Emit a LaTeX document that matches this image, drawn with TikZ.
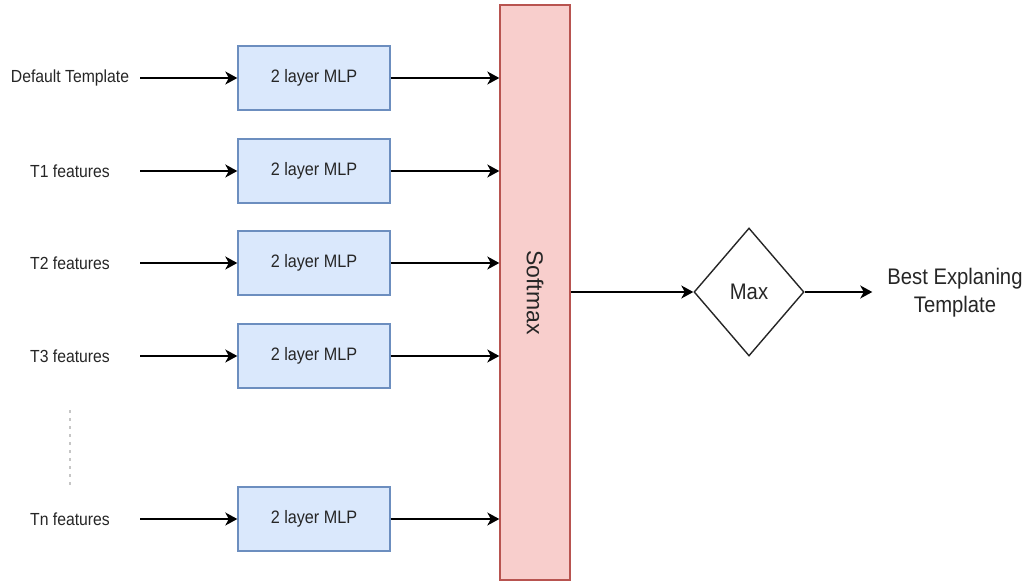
\documentclass[tikz,border=0pt]{standalone}
\usepackage{fontspec}
\setmainfont{Liberation Sans}
\usetikzlibrary{arrows.meta,shapes.geometric}
\newcommand{\nar}[1]{\scalebox{0.9}[1]{#1}}
\begin{document}
\begin{tikzpicture}[x=1pt,y=-1pt,
  arr/.style={line width=1.5pt,-{Stealth[length=12pt,width=13pt,inset=3.5pt]}},
  lab/.style={inner sep=0pt,minimum width=140pt,text=black!85,font=\fontsize{17.5pt}{20pt}\selectfont},
  mlp/.style={line width=1.4pt,minimum width=152pt,minimum height=64pt,inner sep=0pt,text=black!85,font=\fontsize{18pt}{21pt}\selectfont},
]
\definecolor{mlpfill}{HTML}{DAE8FC}
\definecolor{mlpdraw}{HTML}{6C8EBF}
\definecolor{smfill}{HTML}{F8CECC}
\definecolor{smdraw}{HTML}{B85450}
\tikzset{mlp/.append style={draw=mlpdraw,fill=mlpfill}}
\useasboundingbox (0,0) rectangle (1028,581);

\node[draw=smdraw,fill=smfill,line width=1.4pt,minimum width=70pt,minimum height=575pt,inner sep=0pt] (sm) at (535,292.5) {};
\node[rotate=-90,text=black!85,font=\fontsize{23pt}{26pt}\selectfont] at (sm.center) {Softmax};

\node[lab] (l0) at (70,78) {\nar{Default Template}};
\node[lab] (l1) at (70,171) {\nar{T1 features}};
\node[lab] (l2) at (70,263) {\nar{T2 features}};
\node[lab] (l3) at (70,356) {\nar{T3 features}};
\node[lab] (ln) at (70,519) {\nar{Tn features}};

\node[mlp] (m0) at (314,78) {\nar{2 layer MLP}};
\node[mlp] (m1) at (314,171) {\nar{2 layer MLP}};
\node[mlp] (m2) at (314,263) {\nar{2 layer MLP}};
\node[mlp] (m3) at (314,356) {\nar{2 layer MLP}};
\node[mlp] (mn) at (314,519) {\nar{2 layer MLP}};

\foreach \i in {0,1,2,3,n}{
  \draw[arr] (l\i.east) -- (m\i.west);
  \draw[arr] (m\i.east) -- (m\i.east -| sm.west);
}

\coordinate (dtop) at (70,410);
\coordinate (dbot) at (70,486);
\draw[gray!45,line width=2.6pt,dash pattern=on 2.6pt off 5.4pt] (dtop) -- (dbot);

\node[draw=black!85,line width=1.4pt,diamond,minimum width=110pt,minimum height=128pt,inner sep=0pt,text=black!85,font=\fontsize{22.5pt}{26pt}\selectfont] (mx) at (749,292) {\nar{Max}};
\node[align=center,inner xsep=15pt,inner ysep=0pt,text=black!85,font=\fontsize{22.5pt}{28pt}\selectfont] (out) at (955,293) {\nar{Best Explaning}\\\nar{Template}};

\draw[arr] (sm.east |- mx.west) -- (mx.west);
\draw[arr] (mx.east) -- (mx.east -| out.west);
\end{tikzpicture}
\end{document}
